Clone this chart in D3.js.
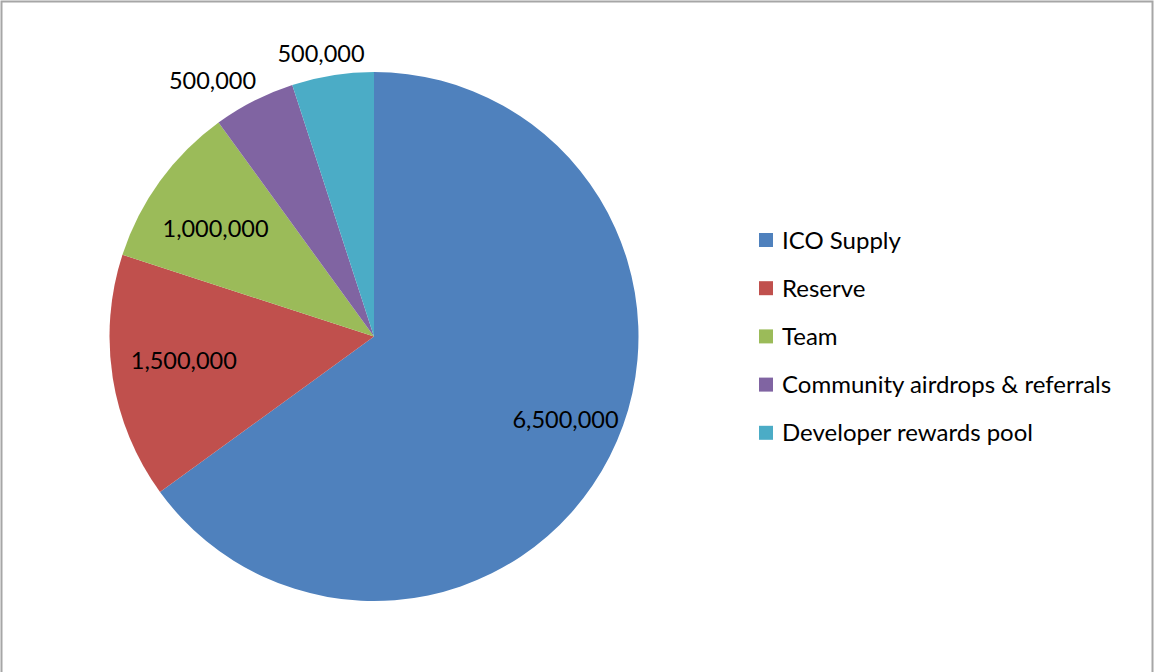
<!DOCTYPE html>
<html><head><meta charset="utf-8">
<script src="https://cdn.jsdelivr.net/npm/d3@7"></script>
<style>html,body{margin:0;padding:0;background:#fff;}svg{display:block;}</style>
</head><body>
<svg id="chart" width="1155" height="672"></svg>
<script>
const categories = ["ICO Supply", "Reserve", "Team", "Community airdrops & referrals", "Developer rewards pool"];
const values = [6500000, 1500000, 1000000, 500000, 500000];
const colors = ["#4F81BD", "#C0504D", "#9BBB59", "#8064A2", "#4BACC6"];

const svg = d3.select("#chart");
const font = "Lato, 'Open Sans', sans-serif";
svg.append("rect").attr("x", 1.5).attr("y", 1.5).attr("width", 1151).attr("height", 672)
  .attr("fill", "#fff").attr("stroke", "#a6a6a6").attr("stroke-width", 2);

const cx = 374, cy = 336.5, r = 264.5;
const g = svg.append("g").attr("transform", `translate(${cx},${cy})`);
const data = categories.map((c, i) => ({name: c, value: values[i], color: colors[i]}));
const pie = d3.pie().value(d => d.value).sort(null);
const arcs = pie(data);
const arc = d3.arc().innerRadius(0).outerRadius(r);
g.selectAll("path").data(arcs).join("path").attr("d", arc).attr("fill", d => d.data.color);

const fmt = d3.format(",");
const total = d3.sum(values);
arcs.forEach((a, i) => {
  let mid = (a.startAngle + a.endAngle) / 2;
  const frac = a.value / total;
  if (frac >= 0.08) {
    let d = r * 0.725;
    if (frac > 0.5) { mid -= 0.06; d = r * 0.79; }
    else if (frac > 0.12) { mid += 0.03; }
    else { mid -= 0.03; }
    const s = Math.sin(mid), c = Math.cos(mid);
    g.append("text").attr("x", d * s).attr("y", -d * c).attr("dy", "0.36em")
      .attr("text-anchor", "middle").attr("font-family", font).attr("font-size", 23.5)
      .attr("fill", "#000").text(fmt(a.value));
  } else {
    const s = Math.sin(mid), c = Math.cos(mid);
    const d = r + 13;
    const px = d * s, py = -d * c;
    const t = g.append("text").attr("font-family", font).attr("font-size", 23.5)
      .attr("fill", "#000").text(fmt(a.value));
    const w = t.node().getComputedTextLength();
    const f = Math.max(0, Math.min(1, (1 - 2 * s) / 2));
    t.attr("x", px - w * f + 4).attr("y", py);
  }
});

const leg = svg.append("g").attr("transform", "translate(759,240)");
data.forEach((d, i) => {
  const row = leg.append("g").attr("transform", `translate(0,${i * 48.2})`);
  row.append("rect").attr("x", 0).attr("y", -7).attr("width", 14).attr("height", 14).attr("fill", d.color);
  row.append("text").attr("x", 23).attr("y", 0).attr("dy", "0.36em")
    .attr("font-family", font).attr("font-size", 24).attr("fill", "#000").text(d.name);
});
</script>
</body></html>
